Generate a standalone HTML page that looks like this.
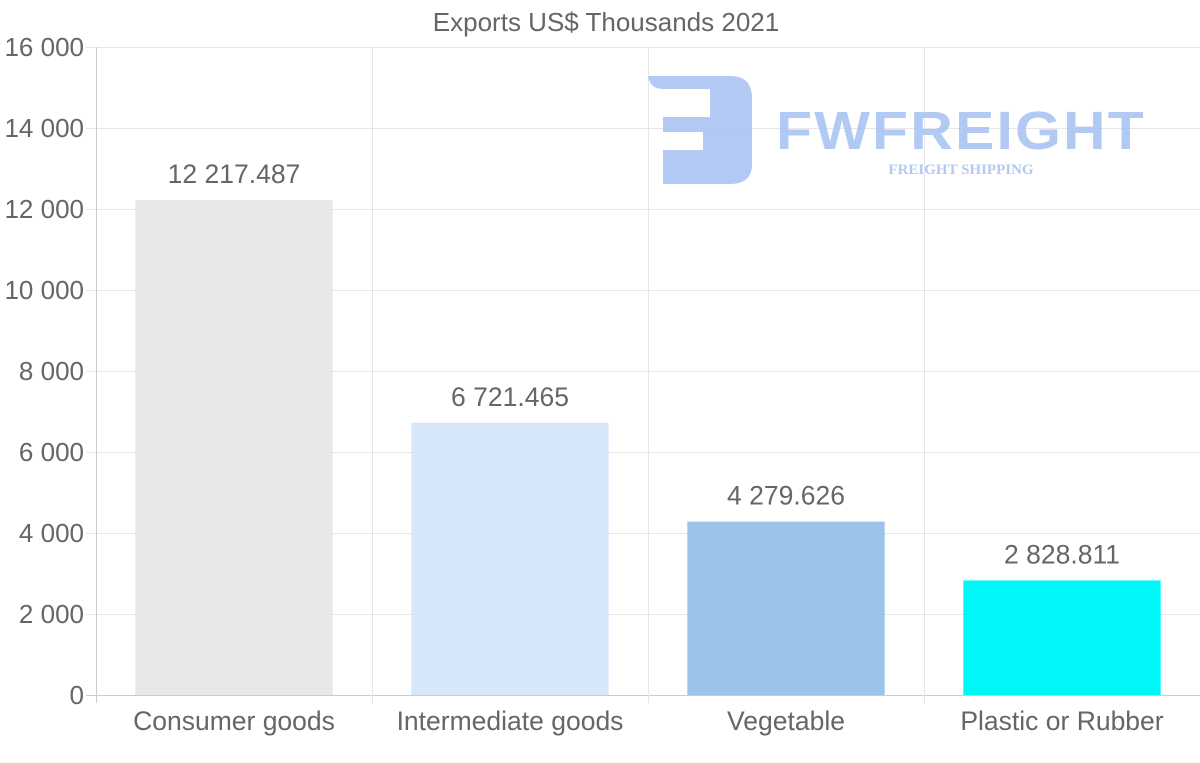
<!DOCTYPE html>
<html><head><meta charset="utf-8"><style>
html,body{margin:0;padding:0;background:#fff;}
svg{display:block;font-family:"Liberation Sans",Arial,sans-serif;}
</style></head><body>
<svg id="chart" width="1200" height="763">
<text x="606" y="31" font-size="26" fill="#666" text-anchor="middle">Exports US$ Thousands 2021</text>
<g id="grid"></g>
<g id="logo" opacity="0.9">
<path d="M648 76 H730 Q752 76 752 98 V164 Q752 184 730 184 H663 V150 H703 V132 H663 V117 H710 V89 H663 Q650 89 648 76 Z" fill="#aac4f2"/>
<text x="776" y="149" font-size="54" font-weight="bold" fill="#aac4f2" letter-spacing="2" textLength="370" lengthAdjust="spacingAndGlyphs">FWFREIGHT</text>
<text x="961" y="174" font-size="15" font-weight="bold" fill="#aac4f2" text-anchor="middle" font-family="Liberation Serif,serif">FREIGHT SHIPPING</text>
</g>
<g id="bars"></g>
<g id="axes"></g>
</svg>
<script>
const categories = ["Consumer goods","Intermediate goods","Vegetable","Plastic or Rubber"];
const values = [12217.487, 6721.465, 4279.626, 2828.811];
const valueLabels = ["12 217.487","6 721.465","4 279.626","2 828.811"];
const yTicks = [0,2000,4000,6000,8000,10000,12000,14000,16000];
const yTickLabels = ["0","2 000","4 000","6 000","8 000","10 000","12 000","14 000","16 000"];
const colors = ["#e8e8e8","#d6e7f9","#9bc4e8","#00f7f7"];

const NS="http://www.w3.org/2000/svg";
const x0=96,x1=1200,yTop=47,yBot=695,yMax=16000;
const bandW=(x1-x0)/categories.length;
function y(v){return yBot-(v/yMax)*(yBot-yTop);}
function bx(i){return x0+i*bandW;}
function mk(tag,attrs,parent){const e=document.createElementNS(NS,tag);for(const k in attrs)e.setAttribute(k,attrs[k]);parent.appendChild(e);return e;}
const grid=document.getElementById('grid'),bars=document.getElementById('bars'),axes=document.getElementById('axes');

yTicks.forEach((t,i)=>{
  const l=mk('line',{x1:86,x2:x1,y1:y(t)+0.5,y2:y(t)+0.5,stroke:i===0?'#ccc':'#e6e6e6','stroke-width':1},grid);
  
  
  const tx=mk('text',{x:84,y:y(t)+9,'font-size':26,fill:'#666','text-anchor':'end'},axes);
  tx.textContent=yTickLabels[i];
  
  
});
for(let i=0;i<=categories.length;i++){
  const l=mk('line',{x1:bx(i)+0.5,x2:bx(i)+0.5,y1:yTop,y2:yBot+8,stroke:i===0?'#ccc':'#e6e6e6','stroke-width':1},grid);
  
  
}
categories.forEach((c,i)=>{
  const w=bandW*0.715, left=bx(i)+(bandW-w)/2;
  const r=mk('rect',{x:left,y:y(values[i]),width:w,height:yBot-y(values[i]),fill:colors[i]},bars);
  
  
  const vl=mk('text',{x:bx(i)+bandW/2,y:y(values[i])-17,'font-size':26.5,fill:'#666','text-anchor':'middle'},bars);
  vl.textContent=valueLabels[i];
  
  
  const cl=mk('text',{x:bx(i)+bandW/2,y:730,'font-size':26.5,fill:'#666','text-anchor':'middle'},axes);
  cl.textContent=c;
  
  
});
</script>
</body></html>
